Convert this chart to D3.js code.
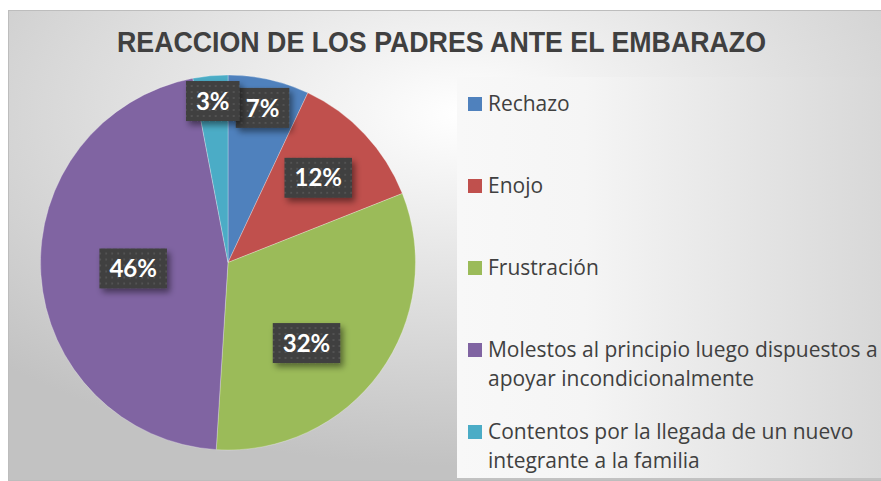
<!DOCTYPE html>
<html>
<head>
<meta charset="utf-8">
<script src="https://cdn.jsdelivr.net/npm/d3@7"></script>
<style>
  body { margin: 0; background: #fff; }
</style>
</head>
<body>
<div id="chart"></div>
<script>
const width = 881, height = 481;

// data
const title = "REACCION DE LOS PADRES ANTE EL EMBARAZO";
const categories = ["Rechazo", "Enojo", "Frustración",
  "Molestos al principio luego dispuestos a apoyar incondicionalmente",
  "Contentos por la llegada de un nuevo integrante a la familia"];
const legendLines = [["Rechazo"], ["Enojo"], ["Frustración"],
  ["Molestos al principio luego dispuestos a", "apoyar incondicionalmente"],
  ["Contentos por la llegada de un nuevo", "integrante a la familia"]];
const percents = [7, 12, 32, 46, 3];
const colors = ["#4F81BD", "#C0504D", "#9BBB59", "#8064A2", "#4BACC6"];

const data = categories.map((c, i) => ({ name: c, value: percents[i], lines: legendLines[i] }));

const svg = d3.select("#chart").append("svg")
    .attr("width", width)
    .attr("height", height);

const defs = svg.append("defs");

// chart area background
let bg = defs.append("radialGradient").attr("id", "bg")
    .attr("cx", "52%").attr("cy", "22%").attr("r", "75%");
bg.append("stop").attr("offset", "0%").attr("stop-color", "#ffffff");
bg.append("stop").attr("offset", "100%").attr("stop-color", "#c2c2c2");

let lg = defs.append("linearGradient").attr("id", "legbg")
    .attr("x1", "0%").attr("x2", "100%").attr("y1", "0%").attr("y2", "0%");
lg.append("stop").attr("offset", "0%").attr("stop-color", "#f8f8f8");
lg.append("stop").attr("offset", "30%").attr("stop-color", "#f5f5f5");
lg.append("stop").attr("offset", "100%").attr("stop-color", "#d8d8d8");

// dotted dark fill of the data labels
let pat = defs.append("pattern").attr("id", "dots")
    .attr("width", 6).attr("height", 6).attr("patternUnits", "userSpaceOnUse");
pat.append("rect").attr("width", 6).attr("height", 6).attr("fill", "#3f3f3f");
pat.append("circle").attr("cx", 3).attr("cy", 3).attr("r", 1).attr("fill", "#585858");

let sh = defs.append("filter").attr("id", "shadow")
    .attr("x", "-30%").attr("y", "-30%").attr("width", "170%").attr("height", "170%");
sh.append("feDropShadow").attr("dx", 3).attr("dy", 4).attr("stdDeviation", 3)
    .attr("flood-color", "#000").attr("flood-opacity", 0.45);

svg.append("rect")
    .attr("x", 8.5).attr("y", 10.5)
    .attr("width", 873).attr("height", 470)
    .attr("fill", "url(#bg)")
    .attr("stroke", "#bdbdbd");

svg.append("rect")
    .attr("x", 457).attr("y", 77)
    .attr("width", 424).attr("height", 401)
    .attr("fill", "url(#legbg)");

svg.append("text")
    .attr("x", 441.5).attr("y", 52)
    .attr("text-anchor", "middle")
    .attr("textLength", 649)
    .attr("lengthAdjust", "spacingAndGlyphs")
    .style("font-family", "'Liberation Sans Narrow', 'Liberation Sans', Arial, sans-serif")
    .style("font-weight", "bold")
    .style("font-size", "29px")
    .style("fill", "#404040")
    .text(title);

// pie
const cx = 228, cy = 262.5, radius = 187.5;
const pie = d3.pie().sort(null).value(d => d.value);
const arcs = pie(data);
const arc = d3.arc().innerRadius(0).outerRadius(radius);

// small slices keep their labels near the rim, big ones nearer the middle
const labelR = d3.scaleLinear().domain([0, 8, 12, 32, 50]).range([0.88, 0.84, 0.66, 0.6, 0.48]);

let gPie = svg.append("g").attr("transform", `translate(${cx},${cy})`);
gPie.selectAll("path")
    .data(arcs)
    .join("path")
        .attr("d", arc)
        .attr("fill", (d, i) => colors[i])
        .attr("stroke", "#ffffff")
        .attr("stroke-opacity", 0.35)
        .attr("stroke-width", 0.8);

let labels = gPie.selectAll("g.lbl")
    .data(arcs)
    .join("g")
        .attr("class", "lbl")
        .attr("transform", d => {
            let r = radius * labelR(d.data.value);
            // excel's best fit pulls the big labels a little clockwise
            let shift = d.data.value > 20 && d.data.value < 40 ? 0.17 : 0;
            let a = { startAngle: d.startAngle + shift, endAngle: d.endAngle + shift };
            let c = d3.arc().innerRadius(r).outerRadius(r).centroid(a);
            return `translate(${c[0]},${c[1]})`;
        });

labels.append("rect")
    .attr("fill", "url(#dots)")
    .attr("filter", "url(#shadow)");

labels.append("text")
    .attr("text-anchor", "middle")
    .attr("dy", "0.36em")
    .style("font-family", "Lato, 'Open Sans', sans-serif")
    .style("font-weight", "bold")
    .style("font-size", "24px")
    .style("fill", "#ffffff")
    .text(d => d.data.value + "%");

labels.each(function() {
    let g = d3.select(this);
    let w = g.select("text").node().getComputedTextLength();
    g.select("rect")
        .attr("x", -w / 2 - 10).attr("y", -20)
        .attr("width", w + 20).attr("height", 40);
});

// legend
const yLeg = d3.scalePoint().domain(categories).range([104, 432]);
let legend = svg.append("g").selectAll("g")
    .data(data)
    .join("g")
        .attr("transform", d => `translate(468,${yLeg(d.name)})`);

legend.append("rect")
    .attr("x", 0).attr("y", -7)
    .attr("width", 14).attr("height", 14)
    .attr("fill", (d, i) => colors[i]);

let legText = legend.append("text")
    .style("font-family", "'Open Sans', Lato, sans-serif")
    .style("font-size", "19px")
    .style("fill", "#404040");
legText.selectAll("tspan")
    .data(d => d.lines)
    .join("tspan")
        .attr("x", 20)
        .attr("y", (d, i) => i * 29)
        .attr("dy", "0.35em")
        .text(d => d);

// the longest legend line runs to the right edge (about 390px)
let widest = d3.max(legText.selectAll("tspan").nodes(), n => n.getComputedTextLength());
legText.style("font-size", (19 * 390 / widest) + "px");
</script>
</body>
</html>
